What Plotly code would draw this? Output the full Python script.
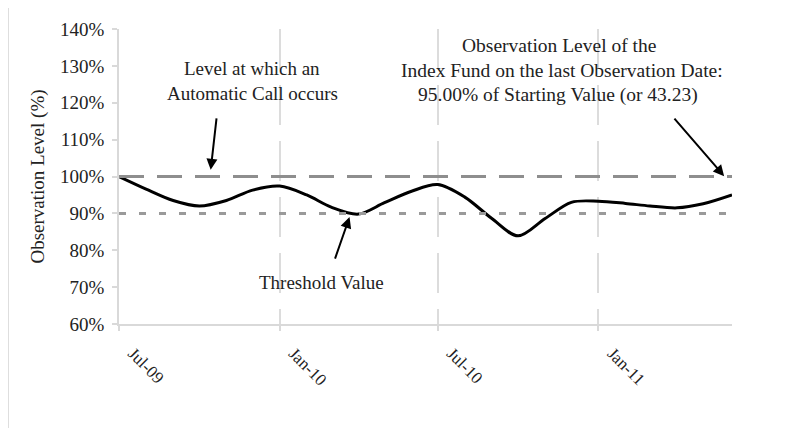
import plotly.graph_objects as go

# ---- data ----
dates = ["2009-07-01", "2009-08-01", "2009-09-01", "2009-10-01", "2009-11-01", "2009-12-01",
         "2010-01-01", "2010-02-01", "2010-03-01", "2010-04-01", "2010-05-01", "2010-06-01",
         "2010-07-01", "2010-08-01", "2010-09-01", "2010-10-01", "2010-11-01", "2010-12-01",
         "2011-01-01", "2011-02-01", "2011-03-01", "2011-04-01", "2011-05-01", "2011-06-03"]
observation_level = [100.0, 96.6, 93.5, 92.0, 93.5, 96.3,
                     97.4, 95.0, 91.7, 89.8, 92.9, 96.0,
                     97.8, 94.4, 88.6, 83.9, 88.6, 93.0,
                     93.3, 92.7, 92.0, 91.5, 92.6, 95.0]
call_level = [100, 100]
threshold_value = [90, 90]
line_dates = [dates[0], dates[-1]]

tick_dates = ["2009-07-01", "2010-01-01", "2010-07-01", "2011-01-01"]
tick_labels = ["Jul-09", "Jan-10", "Jul-10", "Jan-11"]
y_ticks = [60, 70, 80, 90, 100, 110, 120, 130, 140]
y_tick_labels = [f"{v}%" for v in y_ticks]

# ---- layout geometry (pixels, page coordinates; the page body adds an 8px offset) ----
OFF = 8
W, H = 786 - OFF, 428 - OFF
L, R, T, B = 119 - OFF, 732 - OFF, 29 - OFF, 324 - OFF

def px(x):
    return (x - OFF - L) / (R - L)

def py(y):
    return (B - (y - OFF)) / (B - T)

FONT = "Liberation Serif, Times New Roman, serif"
TXT = "#222222"

fig = go.Figure()

fig.add_trace(go.Scatter(x=dates, y=observation_level, mode="lines",
                         line=dict(color="black", width=3, shape="spline", smoothing=0.9),
                         hoverinfo="skip", showlegend=False))
fig.add_trace(go.Scatter(x=line_dates, y=call_level, mode="lines",
                         line=dict(color="#8e8e8e", width=3, dash="25px,13px"),
                         hoverinfo="skip", showlegend=False))
fig.add_trace(go.Scatter(x=line_dates, y=threshold_value, mode="lines",
                         line=dict(color="#9a9a9a", width=3, dash="7px,13px"),
                         hoverinfo="skip", showlegend=False))

annotations = []

def text(t, x, y, size=19):
    annotations.append(dict(text=t, xref="paper", yref="paper", x=px(x), y=py(y),
                            xanchor="center", yanchor="middle", showarrow=False,
                            font=dict(family=FONT, size=size, color=TXT)))

text("Level at which an", 252, 69)
text("Automatic Call occurs", 252, 94)
text("Threshold Value", 321, 282)
text("Observation Level of the", 559, 45, 19.5)
text("Index Fund on the last Observation Date:", 562, 70, 19.5)
text("95.00% of Starting Value (or 43.23)", 558, 95, 19.5)

def arrow(x, y, ax, ay):
    annotations.append(dict(text="", xref="x", yref="y", x=x, y=y, ax=ax, ay=ay,
                            showarrow=True, arrowhead=2, arrowsize=1.1, arrowwidth=2,
                            arrowcolor="black"))

arrow("2009-10-14", 101.8, 6, -53)
arrow("2010-03-22", 89.0, -15, 43)
arrow("2011-05-25", 100.1, -51, -59)

shapes = [dict(type="rect", xref="paper", yref="paper",
               x0=px(8), x1=px(1000), y0=py(700), y1=py(6),
               line=dict(color="#d4d4d4", width=1.5), fillcolor="rgba(0,0,0,0)", layer="below")]

fig.update_layout(
    width=W, height=H, autosize=False,
    margin=dict(l=L, r=W - R, t=T, b=H - B),
    paper_bgcolor="white", plot_bgcolor="white",
    font=dict(family=FONT, size=19, color=TXT),
    annotations=annotations, shapes=shapes,
    xaxis=dict(type="date", range=[dates[0], dates[-1]],
               tickmode="array", tickvals=tick_dates, ticktext=tick_labels,
               tickangle=45, ticks="outside", ticklen=5, tickcolor="#d9d9d9", tickwidth=1.5,
               showline=True, linecolor="#d9d9d9", linewidth=1.5,
               showgrid=True, gridcolor="#dcdcdc", gridwidth=1.5, griddash="40px,16px",
               zeroline=False, ticklabelstandoff=6, ticklabelshift=14,
               tickfont=dict(family=FONT, size=17, color=TXT)),
    yaxis=dict(range=[60, 140], tickmode="array", tickvals=y_ticks, ticktext=y_tick_labels,
               ticks="outside", ticklen=5, tickcolor="#d9d9d9", tickwidth=1.5,
               showline=True, linecolor="#d9d9d9", linewidth=1.5,
               showgrid=False, zeroline=False, ticklabelstandoff=4,
               tickfont=dict(family=FONT, size=19, color=TXT),
               title=dict(text="Observation Level (%)", standoff=10,
                          font=dict(family=FONT, size=19, color=TXT))),
)

fig.write_html("out.html")
